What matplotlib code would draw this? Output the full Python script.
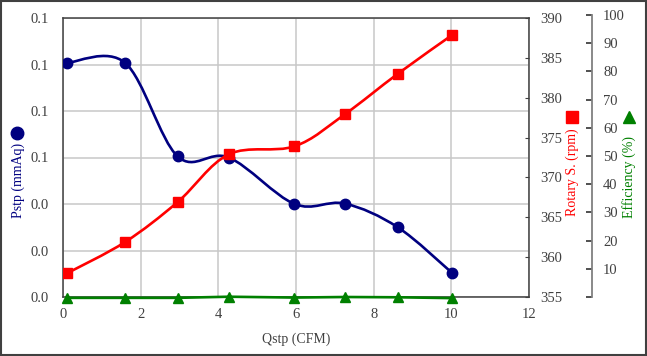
import matplotlib
matplotlib.use("Agg")
import matplotlib.pyplot as plt
from matplotlib.path import Path
from matplotlib.patches import PathPatch, Rectangle
from matplotlib.lines import Line2D
from matplotlib.ticker import FuncFormatter

# du lieu doc tu hinh
qstp = [0.1, 1.6, 2.95, 4.27, 5.96, 7.25, 8.62, 10.03]
pstp = [0.1007, 0.1007, 0.0605, 0.0600, 0.0400, 0.0402, 0.0300, 0.0102]
rpm = [357.97, 361.9, 366.9, 372.9, 373.9, 377.9, 383.0, 387.9]
eff = [-0.3, -0.3, -0.3, 0.1, -0.2, 0.0, -0.1, -0.4]

x_ticks = [0, 2, 4, 6, 8, 10, 12]
p_ticks = [0, 0.02, 0.04, 0.06, 0.08, 0.10, 0.12]
rpm_ticks = [355, 360, 365, 370, 375, 380, 385, 390]
eff_ticks = [0, 10, 20, 30, 40, 50, 60, 70, 80, 90, 100]

navy = "#000080"
red = "#ff0000"
green = "#008000"
txt = "#404040"

plt.rcParams["font.family"] = ["Liberation Serif", "DejaVu Serif"]


def smooth_path(xs, ys):
    # duong cong kieu Excel (Bezier qua cac diem)
    pts = list(zip(xs, ys))
    verts = [pts[0]]
    codes = [Path.MOVETO]
    n = len(pts)
    for i in range(n - 1):
        p0 = pts[i - 1] if i > 0 else pts[i]
        p1 = pts[i]
        p2 = pts[i + 1]
        p3 = pts[i + 2] if i + 2 < n else pts[i + 1]
        c1 = (p1[0] + (p2[0] - p0[0]) / 6, p1[1] + (p2[1] - p0[1]) / 6)
        c2 = (p2[0] - (p3[0] - p1[0]) / 6, p2[1] - (p3[1] - p1[1]) / 6)
        verts += [c1, c2, p2]
        codes += [Path.CURVE4] * 3
    return Path(verts, codes)


fig = plt.figure(figsize=(6.47, 3.56), dpi=100)
ax = fig.add_axes([63 / 647, 1 - 297 / 356, (529 - 63) / 647, (297 - 18) / 356])
ax2 = ax.twinx()
ax3 = fig.add_axes([592 / 647 - 0.5, 1 - 297 / 356, 0.5, (297 - 15) / 356])

# Pstp
ax.add_patch(PathPatch(smooth_path(qstp, pstp), fill=False, ec=navy, lw=1.9, zorder=3))
ax.plot(qstp, pstp, ls="none", marker="o", ms=7.5, color=navy, zorder=4)
ax.set_xlim(0, 12)
ax.set_ylim(0, 0.12)
ax.set_xticks(x_ticks)
ax.set_yticks(p_ticks)
ax.yaxis.set_major_formatter(FuncFormatter(lambda v, p: "%.1f" % v))
ax.grid(True, color="#c8c8c8", lw=1.1)
ax.set_axisbelow(True)
ax.tick_params(axis="both", length=0, labelsize=10.5, labelcolor=txt)
ax.tick_params(axis="y", pad=10)
ax.tick_params(axis="x", pad=8)
for s in ["left", "bottom", "top", "right"]:
    ax.spines[s].set_color(txt)
    ax.spines[s].set_linewidth(1.1)
ax.set_xlabel("Qstp (CFM)", fontsize=10, color=txt, labelpad=8)

# toc do quay
ax2.add_patch(PathPatch(smooth_path(qstp, rpm), fill=False, ec=red, lw=1.9, zorder=3))
ax2.plot(qstp, rpm, ls="none", marker="s", ms=7.5, color=red, zorder=4)
ax2.set_ylim(355, 390)
ax2.set_yticks(rpm_ticks)
ax2.tick_params(axis="y", direction="in", length=3, color=txt, labelsize=10.5,
                labelcolor=txt, pad=8)
for s in ax2.spines.values():
    s.set_visible(False)

# hieu suat - truc rieng ben phai
ax3.patch.set_visible(False)
for s in ["left", "top", "bottom"]:
    ax3.spines[s].set_visible(False)
ax3.spines["right"].set_color("#808080")
ax3.spines["right"].set_linewidth(1.3)
ax3.set_xticks([])
ax3.yaxis.tick_right()
ax3.set_ylim(0, 100)
ax3.set_yticks(eff_ticks)
ax3.yaxis.set_major_formatter(FuncFormatter(lambda v, p: "" if v == 0 else "%d" % v))
ax3.tick_params(axis="y", direction="in", length=4, color="#202020", width=1.1,
                labelsize=10.5, labelcolor=txt, pad=8)

# duong hieu suat ve tren vung do thi, cung thang do voi ax3
ax4 = fig.add_axes(ax.get_position(), sharex=ax, frameon=False)
ax4.set_ylim(0, 100 * 279 / 282)
ax4.axis("off")
ax4.plot(qstp, eff, color=green, lw=1.9, marker="^", ms=7, clip_on=False, zorder=5)

# nhan truc
fig.text(18 / 647, 1 - 180.5 / 356, "Pstp (mmAq)", rotation=90, color=navy,
         fontsize=10, ha="center", va="center")
fig.add_artist(Line2D([17 / 647], [1 - 133 / 356], transform=fig.transFigure,
                      marker="o", ms=9, color=navy, ls="none"))
fig.text(572 / 647, 1 - 172.5 / 356, "Rotary S. (rpm)", rotation=90, color=red,
         fontsize=10, ha="center", va="center")
fig.add_artist(Line2D([572 / 647], [1 - 117 / 356], transform=fig.transFigure,
                      marker="s", ms=9, color=red, ls="none"))
fig.text(629 / 647, 1 - 176.5 / 356, "Efficiency (%)", rotation=90, color=green,
         fontsize=10, ha="center", va="center")
fig.add_artist(Line2D([629 / 647], [1 - 117 / 356], transform=fig.transFigure,
                      marker="^", ms=9, color=green, ls="none"))

fig.add_artist(Rectangle((0.001, 0.002), 0.997, 0.995, transform=fig.transFigure,
                         fill=False, ec="#404040", lw=1.5))

fig.savefig("out.png", dpi=100)
